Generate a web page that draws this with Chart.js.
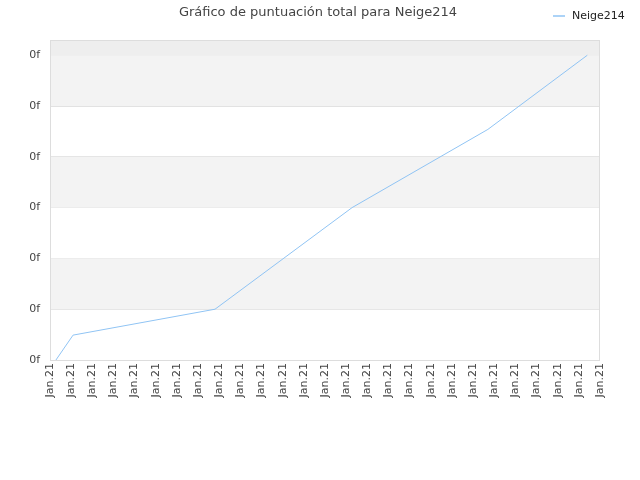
<!DOCTYPE html>
<html><head><meta charset="utf-8">
<script src="https://cdn.jsdelivr.net/npm/chart.js@4"></script>
<style>html,body{margin:0;padding:0;background:#fff}#w{width:640px;height:480px}</style>
</head><body><div id="w"><canvas id="c"></canvas></div>
<script>
const titleText = "Gráfico de puntuación total para Neige214";
const seriesName = "Neige214";
const xValues = [0.28, 1.09, 7.8, 14.28, 20.7, 25.4];
const yValues = [0, 0.49, 1, 3, 4.54, 6];
const xTickLabel = "Jan.21";
const yTickLabel = "0f";

const bands = {
  id: 'bands',
  beforeDatasetsDraw(chart) {
    const {ctx, chartArea: a, scales: {y}} = chart;
    ctx.save();
    for (let v = 0; v < 7; v++) {
      const top = v === 6 ? a.top : y.getPixelForValue(v + 1);
      const bot = y.getPixelForValue(v);
      if (v % 2 === 1) ctx.fillStyle = '#f3f3f3';
      else if (v === 6) ctx.fillStyle = '#eeeeee';
      else continue;
      ctx.fillRect(a.left, top, a.right - a.left, bot - top);
    }
    ctx.strokeStyle = '#dddddd'; ctx.lineWidth = 1;
    ctx.strokeRect(a.left + 0.5, a.top + 0.5, a.right - a.left - 1, a.bottom - a.top);
    ctx.restore();
  },
  afterDraw(chart) {
    const ctx = chart.ctx;
    ctx.save();
    ctx.font = '13px "DejaVu Sans"';
    ctx.fillStyle = '#444';
    ctx.textAlign = 'center'; ctx.textBaseline = 'middle';
    ctx.fillText(titleText, 318, 13);
    ctx.font = '11px "DejaVu Sans"';
    ctx.textAlign = 'left';
    ctx.fillStyle = '#222';
    ctx.fillText(seriesName, 572, 16);
    ctx.strokeStyle = '#90c4f4'; ctx.lineWidth = 1.5;
    ctx.beginPath(); ctx.moveTo(553, 16); ctx.lineTo(565, 16); ctx.stroke();
    ctx.restore();
  }
};

new Chart(document.getElementById('c'), {
  type: 'line',
  data: { datasets: [{
    label: seriesName,
    data: xValues.map((x, i) => ({x, y: yValues[i]})),
    borderColor: '#90c4f4', borderWidth: 1, pointRadius: 0, tension: 0, fill: false
  }]},
  options: {
    responsive: true, maintainAspectRatio: false, animation: false,
    layout: { padding: { top: 40, right: 40, bottom: 70, left: 0 } },
    plugins: { legend: { display: false }, title: { display: false }, tooltip: { enabled: false } },
    scales: {
      x: {
        type: 'linear', min: 0, max: 26,
        ticks: { stepSize: 1, autoSkip: false, maxRotation: 90, minRotation: 90,
          color: '#444', font: { family: 'DejaVu Sans', size: 11 },
          callback: () => xTickLabel },
        grid: { display: false, drawTicks: false },
        border: { display: false },
        afterFit(s) { s.height = 50; }
      },
      y: {
        min: 0, max: 6.3,
        afterBuildTicks(s) { s.ticks = [0,1,2,3,4,5,6].map(v => ({value: v})); },
        ticks: { color: '#444', font: { family: 'DejaVu Sans', size: 11 }, padding: 10,
          callback: () => yTickLabel },
        grid: { color: '#e2e2e2', drawTicks: false },
        border: { display: false },
        afterFit(s) { s.width = 50; }
      }
    }
  },
  plugins: [bands]
});
</script></body></html>
